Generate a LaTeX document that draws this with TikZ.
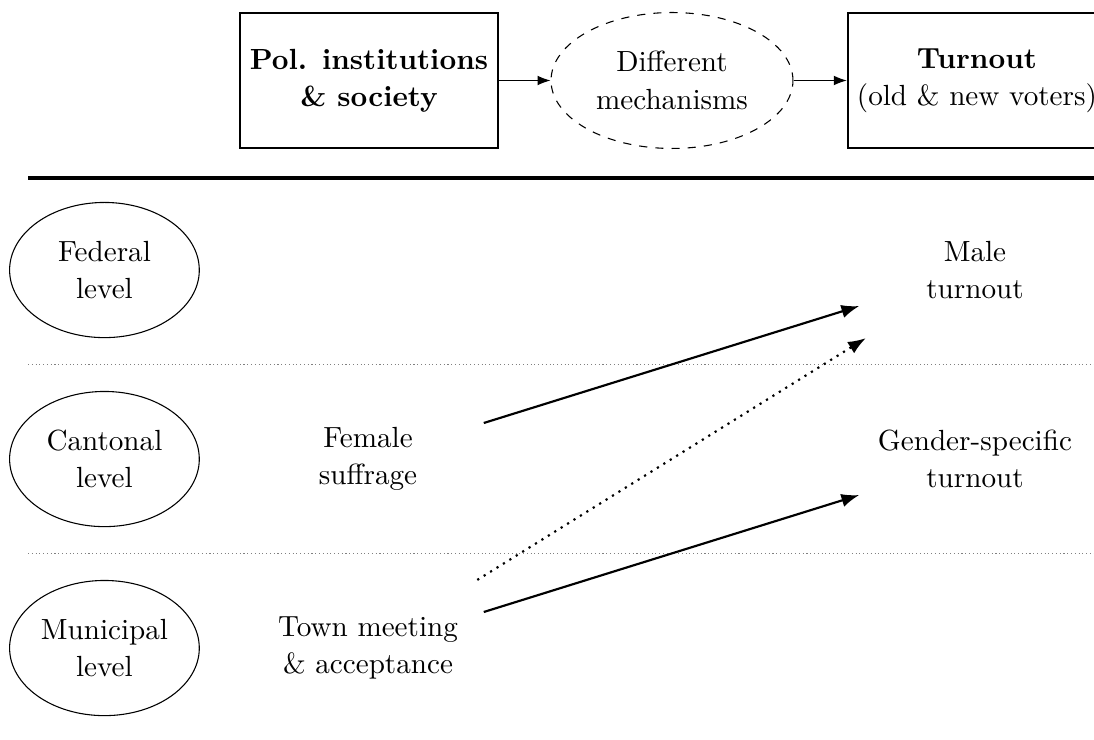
\documentclass[tikz,border=0pt]{standalone}
\usepackage{tikz}
\usetikzlibrary{arrows.meta,shapes.geometric}

\begin{document}
\begin{tikzpicture}[font=\fontsize{10.8}{13.8}\selectfont]
		\useasboundingbox (0,0) rectangle (14.245,-9.635);

		% top row
		\begin{scope}[every node/.style={align=center,minimum width=3.36cm,minimum height=1.76cm}]
			\node[draw,thick] (inst) at (4.805,-1.048) {\textbf{Pol. institutions}\\\textbf{\& society}};
			\node[draw,dashed,ellipse,inner sep=0pt,minimum width=3.15cm,minimum height=1.77cm] (mech) at (8.75,-1.048) {Different\\mechanisms};
			\node[draw,thick] (turn) at (12.72,-1.048) {\textbf{Turnout}\\(old \& new voters)};
		\end{scope}

		\begin{scope}[>={Latex[black]}]
			\path [->] (inst) edge (mech);
			\path [->] (mech) edge (turn);
		\end{scope}

		\draw[line width=1.2pt] (0.365,-2.318) -- (14.4,-2.318);
		\draw[gray,densely dotted] (0.365,-4.746) -- (14.4,-4.746);
		\draw[gray,densely dotted] (0.365,-7.207) -- (14.4,-7.207);

		% levels
		\begin{scope}[every node/.style={draw,ellipse,inner sep=0pt,minimum width=2.47cm,minimum height=1.76cm,align=center}]
			\node (fed) at (1.36,-3.516) {Federal\\level};
			\node (cant) at (1.36,-5.977) {Cantonal\\level};
			\node (muni) at (1.36,-8.438) {Municipal\\level};
		\end{scope}

		\begin{scope}[every node/.style={align=center,minimum width=3cm,minimum height=1.76cm}]
			\node (female) at (4.792,-5.977) {Female\\suffrage};
			\node (town) at (4.792,-8.438) {Town meeting\\\& acceptance};
			\node (male) at (12.695,-3.516) {Male\\turnout};
			\node (gender) at (12.695,-5.977) {Gender-specific\\turnout};
		\end{scope}

		\begin{scope}[>={Latex[black]},thick]
			\path [->] (female) edge (male);
			\path [->] (town) edge (gender);
			\path [->] (town) edge[dotted] (male);
		\end{scope}
		\end{tikzpicture}
\end{document}
